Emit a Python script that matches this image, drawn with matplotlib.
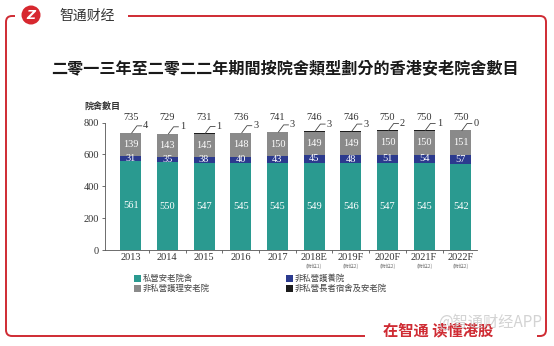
import matplotlib.pyplot as plt
from matplotlib.patches import Circle, Rectangle, FancyBboxPatch
from matplotlib.transforms import IdentityTransform
import numpy as np

years = ['2013', '2014', '2015', '2016', '2017', '2018E', '2019F', '2020F', '2021F', '2022F']
notes = ['', '', '', '', '', '(附註1)', '(附註2)', '(附註2)', '(附註2)', '(附註2)']
private = [561, 550, 547, 545, 545, 549, 546, 547, 545, 542]
nursing = [31, 35, 38, 40, 43, 45, 48, 51, 54, 57]
care = [139, 143, 145, 148, 150, 149, 149, 150, 150, 151]
hostel = [4, 1, 1, 3, 3, 3, 3, 2, 1, 0]
totals = [735, 729, 731, 736, 741, 746, 746, 750, 750, 750]
names = ['私營安老院舍', '非私營護養院', '非私營護理安老院', '非私營長者宿舍及安老院']

colors = ['#2a9a90', '#2b3a8e', '#8a8a8a', '#1c1c1c']
W, H = 554, 346
CJK = ['Noto Sans CJK TC', 'DejaVu Sans']
SERIF = 'Liberation Serif'
RED = '#cf2b33'

fig = plt.figure(figsize=(W / 100, H / 100), dpi=100)
fig.patch.set_facecolor('white')


def px(x, y):
    # pixel coords (top-left origin) -> figure fraction
    return x / W, 1 - y / H


# ---- frame ----
ident = IdentityTransform()
frame = FancyBboxPatch((6, H - 336), 540, 320, boxstyle='round,pad=0,rounding_size=6',
                       transform=ident, fill=False, ec=RED, lw=1.4)
fig.add_artist(frame)
fig.add_artist(Rectangle((15, H - 22), 113, 12, transform=ident, fc='white', ec='none'))
fig.add_artist(Rectangle((365, H - 342), 172, 12, transform=ident, fc='white', ec='none'))

# logo
fig.add_artist(Circle((31, H - 15), 9.5, transform=ident, fc='#d7282f', ec='none'))
fig.text(*px(31, 15.5), 'Z', color='white', fontsize=9, fontweight='bold', style='italic',
         ha='center', va='center', family='DejaVu Sans')
fig.text(*px(59, 15.5), '智通财经', color='#333333', fontsize=10,
         ha='left', va='center', family=['Noto Sans CJK SC', 'DejaVu Sans'])

# bottom slogan + watermark
fig.text(*px(383, 330), '在智通 读懂港股', color=RED, fontsize=11, fontweight='bold',
         ha='left', va='center', family=['Noto Sans CJK SC', 'DejaVu Sans'])
fig.text(*px(438, 322), '@智通财经APP', color='#c8c8c8', fontsize=11, alpha=0.8,
         ha='left', va='center', family=['Noto Sans CJK SC', 'DejaVu Sans'])

# title
fig.text(*px(285, 68), '二零一三年至二零二二年期間按院舍類型劃分的香港安老院舍數目',
         fontsize=11.6, fontweight='bold', color='#1a1a1a', ha='center', va='center', family=CJK)

# ---- chart ----
ax = fig.add_axes([105 / W, 1 - 250 / H, (477 - 105) / W, (250 - 122.5) / H])
x = np.arange(len(years))
bw = 0.57
series = [private, nursing, care, hostel]
bottom = np.zeros(len(years))
for vals, c, name in zip(series, colors, names):
    ax.bar(x, vals, bw, bottom=bottom, color=c, label=name, zorder=2)
    if c != colors[3]:
        for i, v in enumerate(vals):
            ax.text(x[i], bottom[i] + v / 2, str(v), ha='center', va='center',
                    color='white', fontsize=7.5, family=SERIF, zorder=3)
    bottom += np.array(vals)

for i, t in enumerate(totals):
    ax.text(x[i], 830, str(t), ha='center', va='center', fontsize=7.5,
            color='#333333', family=SERIF, clip_on=False)
    ly = t + 44
    ax.plot([x[i] + 0.03, x[i] + 0.17, x[i] + 0.3], [t, ly, ly], color='#444444',
            lw=0.6, clip_on=False, zorder=3)
    ax.text(x[i] + 0.34, ly, str(hostel[i]), ha='left', va='center', fontsize=7.5,
            color='#333333', family=SERIF, clip_on=False)
    if notes[i]:
        ax.text(x[i], -0.125, notes[i], transform=ax.get_xaxis_transform(), ha='center',
                va='center', fontsize=3.6, color='#777777', family=CJK)

ax.set_xlim(-0.7, 9.44)
ax.set_ylim(0, 800)
ax.set_yticks([0, 200, 400, 600, 800])
ax.set_xticks(x)
ax.set_xticklabels(years)
ax.set_xticks(x[:-1] + 0.5, minor=True)
ax.tick_params(axis='x', which='major', length=0, pad=2)
ax.tick_params(axis='x', which='minor', length=2.5, width=0.6, color='#555555')
ax.tick_params(axis='y', length=2.5, width=0.6, color='#555555', pad=2)
for lab in ax.get_xticklabels() + ax.get_yticklabels():
    lab.set_family(SERIF)
    lab.set_fontsize(7.5)
    lab.set_color('#333333')
for s in ['top', 'right']:
    ax.spines[s].set_visible(False)
for s in ['left', 'bottom']:
    ax.spines[s].set_color('#555555')
    ax.spines[s].set_linewidth(0.6)

fig.text(*px(84, 106), '院舍數目', fontsize=6.5, fontweight='bold', color='#333333',
         ha='left', va='center', family=CJK)

# ---- legend ----
leg_pos = [(137, 278), (289, 278), (137, 288), (289, 288)]
for (lx, ly), c, name in zip(leg_pos, colors, names):
    fig.add_artist(Rectangle((lx - 3.5, H - ly - 3.5), 7, 7, transform=ident, fc=c, ec='none'))
    fig.text(*px(lx + 6, ly), name, fontsize=6, color='#444444', ha='left', va='center',
             family=CJK)

fig.savefig('out.png', dpi=100)
